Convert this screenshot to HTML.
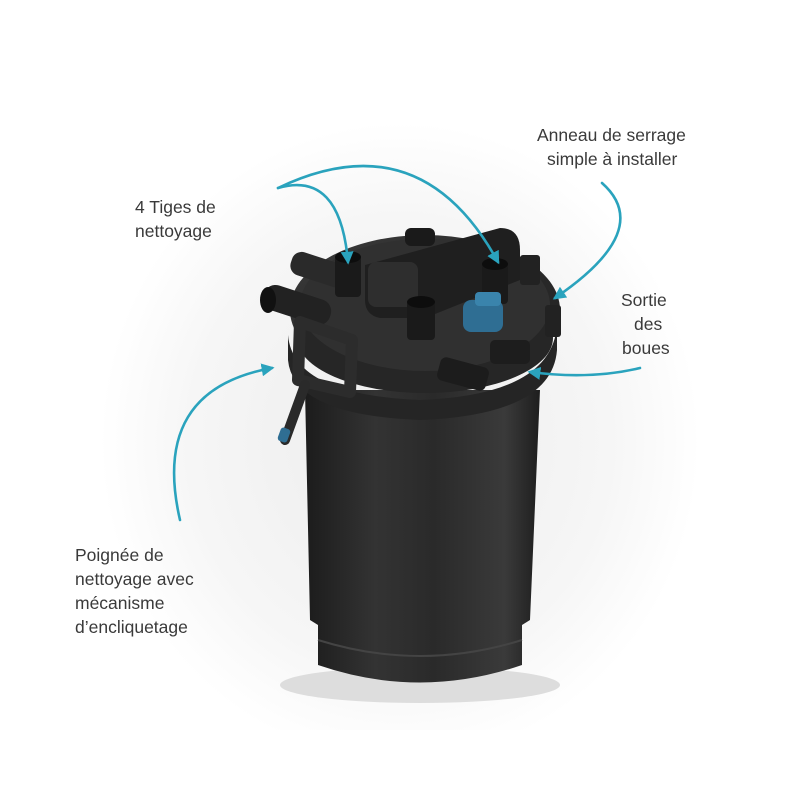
<!DOCTYPE html>
<html><head><meta charset="utf-8"><style>
html,body{margin:0;padding:0;background:#fff;}
svg{display:block}
text{font-family:"Liberation Sans","DejaVu Sans",sans-serif;font-size:17.5px;fill:#3a3a3a;}
</style></head><body>
<svg width="800" height="800" viewBox="0 0 800 800" xmlns="http://www.w3.org/2000/svg">
<defs>
<linearGradient id="body" x1="0" x2="1" y1="0" y2="0">
<stop offset="0" stop-color="#1c1c1c"/><stop offset="0.3" stop-color="#333"/><stop offset="0.55" stop-color="#2a2a2a"/><stop offset="0.85" stop-color="#3a3a3a"/><stop offset="1" stop-color="#1e1e1e"/>
</linearGradient>
<linearGradient id="lid" x1="0" x2="1" y1="0" y2="1">
<stop offset="0" stop-color="#3a3a3a"/><stop offset="1" stop-color="#1e1e1e"/>
</linearGradient>
<radialGradient id="bg" cx="0.5" cy="0.55" r="0.5">
<stop offset="0" stop-color="#ececec"/><stop offset="0.7" stop-color="#f6f6f6"/><stop offset="1" stop-color="#ffffff"/>
</radialGradient>
<marker id="ar" viewBox="0 0 10 10" refX="8" refY="5" markerWidth="5" markerHeight="5" orient="auto"><path d="M0,0 L10,5 L0,10 z" fill="#2aa3bd"/></marker>
</defs>
<rect x="100" y="90" width="600" height="640" fill="url(#bg)"/>
<ellipse cx="420" cy="685" rx="140" ry="18" fill="#ddd"/>
<!-- body -->
<path d="M305,390 L540,390 L530,620 L522,625 L522,665 Q420,700 318,665 L318,625 L310,620 Z" fill="url(#body)"/>
<path d="M318,640 Q420,672 522,640" stroke="#444" stroke-width="2" fill="none"/>
<!-- rim -->
<path d="M288,335 Q293,395 420,400 Q552,395 557,325 L557,350 Q552,415 420,420 Q293,415 288,360 Z" fill="#252525"/>
<!-- lid -->
<ellipse cx="425" cy="310" rx="135" ry="75" fill="url(#lid)"/>
<ellipse cx="425" cy="338" rx="128" ry="55" fill="#262626"/>
<ellipse cx="425" cy="305" rx="125" ry="66" fill="#303030"/>
<!-- left pipes -->
<rect x="290" y="258" width="60" height="24" rx="10" fill="#2a2a2a" transform="rotate(18 320 270)"/>
<rect x="262" y="292" width="70" height="26" rx="12" fill="#222" transform="rotate(18 297 305)"/>
<ellipse cx="268" cy="300" rx="8" ry="13" fill="#111"/>
<!-- handle top -->
<path d="M365,265 L500,228 Q520,228 520,250 L520,280 L425,318 L380,318 Q365,315 365,300 Z" fill="#1f1f1f"/>
<rect x="368" y="262" width="50" height="45" rx="8" fill="#2e2e2e"/>
<rect x="405" y="228" width="30" height="18" rx="6" fill="#1a1a1a"/>
<!-- cleaning rods -->
<rect x="335" y="255" width="26" height="42" rx="4" fill="#1a1a1a"/>
<ellipse cx="348" cy="257" rx="13" ry="6" fill="#0d0d0d"/>
<rect x="482" y="262" width="26" height="42" rx="4" fill="#1a1a1a"/>
<ellipse cx="495" cy="264" rx="13" ry="6" fill="#0d0d0d"/>
<rect x="407" y="300" width="28" height="40" rx="4" fill="#1a1a1a"/>
<ellipse cx="421" cy="302" rx="14" ry="6" fill="#0d0d0d"/>
<!-- blue knob -->
<rect x="463" y="300" width="40" height="32" rx="8" fill="#2f6e93"/>
<rect x="475" y="292" width="26" height="14" rx="4" fill="#3a84ac"/>
<!-- right clamps -->
<rect x="545" y="305" width="16" height="32" rx="3" fill="#222"/>
<rect x="520" y="255" width="20" height="30" rx="3" fill="#222"/>
<!-- sludge outlet -->
<rect x="490" y="340" width="40" height="24" rx="5" fill="#1d1d1d"/>
<rect x="438" y="362" width="50" height="24" rx="6" fill="#1c1c1c" transform="rotate(15 463 374)"/>
<!-- handle -->
<path d="M300,322 L352,340 L350,392 L298,380 Z" fill="none" stroke="#2c2c2c" stroke-width="12" stroke-linejoin="round"/>
<line x1="305" y1="385" x2="285" y2="440" stroke="#2a2a2a" stroke-width="10" stroke-linecap="round"/>
<rect x="279" y="428" width="10" height="14" rx="3" fill="#2f6e93" transform="rotate(20 284 435)"/>
<!-- arrows -->
<g stroke="#2aa3bd" stroke-width="2.6" fill="none" stroke-linecap="round">
<path d="M278,188 Q340,170 348,262" marker-end="url(#ar)"/>
<path d="M278,188 Q420,120 498,262" marker-end="url(#ar)"/>
<path d="M602,183 Q655,230 555,298" marker-end="url(#ar)"/>
<path d="M640,368 Q590,380 530,372" marker-end="url(#ar)"/>
<path d="M180,520 Q150,390 272,368" marker-end="url(#ar)"/>
</g>
<!-- labels -->
<text x="135" y="213">4 Tiges de</text>
<text x="135" y="237">nettoyage</text>
<text x="537" y="141">Anneau de serrage</text>
<text x="547" y="165">simple à installer</text>
<text x="621" y="306">Sortie</text>
<text x="634" y="330">des</text>
<text x="622" y="354">boues</text>
<text x="75" y="561">Poignée de</text>
<text x="75" y="585">nettoyage avec</text>
<text x="75" y="609">mécanisme</text>
<text x="75" y="633">d’encliquetage</text>
</svg>
</body></html>
